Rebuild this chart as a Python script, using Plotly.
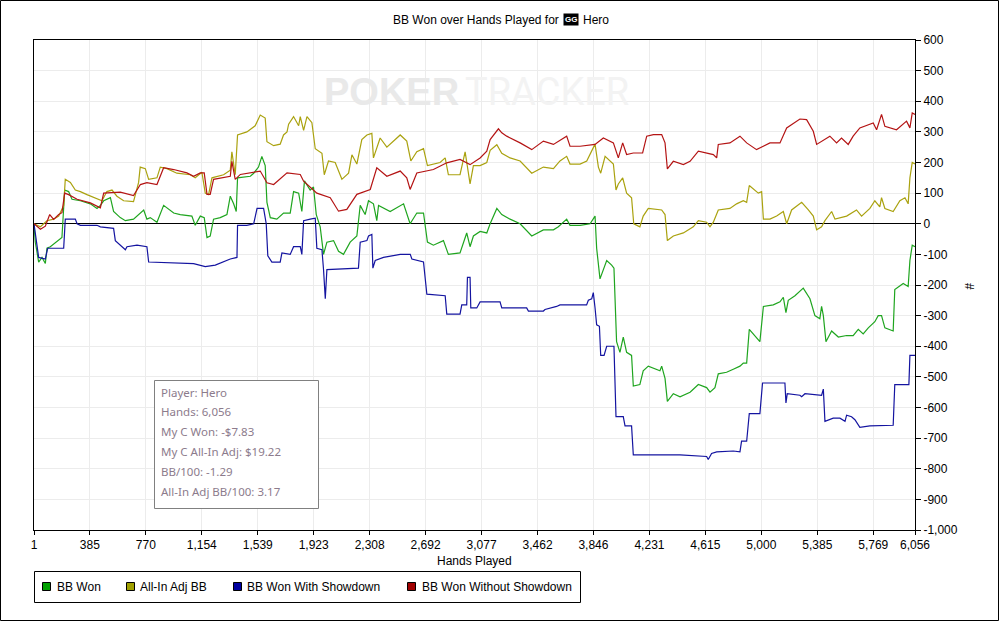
import plotly.graph_objects as go

# hands played / big blinds
bb_won = [(1, 0), (10, -60), (33, -125), (56, -110), (79, -130), (90, -80), (113, -75), (171, -55), (193, -45),
          (212, 110), (239, 105), (262, 80), (320, 75), (388, 65), (434, 50), (457, 60), (480, 75), (526, 85),
          (548, 40), (594, 20), (629, 10), (685, 15), (709, 25), (755, 45), (777, 15), (800, 20), (846, 5),
          (869, 30), (892, 60), (961, 35), (1006, 30), (1086, 25), (1109, -5), (1144, 25), (1171, 20),
          (1190, -45), (1212, -40), (1235, 15), (1281, 20), (1327, 30), (1350, 90), (1373, 65), (1391, 40),
          (1400, 150), (1488, 155), (1511, 165), (1544, 185), (1567, 220), (1590, 190), (1602, 70), (1625, 20),
          (1670, 15), (1716, 35), (1762, 35), (1785, 105), (1820, 100), (1842, 40), (1860, 140), (1899, 110),
          (1922, 120), (1941, 30), (1968, -10), (1991, -100), (2014, -60), (2060, -55), (2094, -90), (2128, -100),
          (2174, -60), (2220, -40), (2243, 60), (2277, 30), (2300, 75), (2334, 65), (2357, 10), (2369, 60),
          (2449, 40), (2541, 65), (2586, 0), (2632, 35), (2678, 35), (2705, -60), (2746, -70), (2815, -55),
          (2849, -100), (2929, -95), (2975, -30), (2998, -75), (3021, -40), (3067, -25), (3113, -30), (3136, 0),
          (3182, 50), (3216, 30), (3273, 15), (3342, 0), (3422, -40), (3502, -20), (3571, -20), (3605, -10),
          (3662, 15), (3685, -5), (3754, -5), (3823, 0), (3857, 25), (3868, -80), (3891, -180), (3914, -150),
          (3937, -120), (3971, -135), (3987, -145), (4005, -385), (4028, -420), (4051, -370), (4074, -420),
          (4108, -430), (4120, -530), (4165, -525), (4188, -480), (4223, -465), (4303, -480), (4315, -465),
          (4338, -505), (4354, -580), (4395, -555), (4441, -565), (4510, -550), (4567, -525), (4624, -535),
          (4647, -550), (4681, -535), (4704, -490), (4761, -485), (4807, -475), (4853, -465), (4876, -455),
          (4899, -455), (4917, -345), (4967, -375), (4990, -385), (5014, -270), (5082, -265), (5128, -255),
          (5151, -240), (5169, -290), (5185, -250), (5231, -235), (5288, -210), (5334, -245), (5368, -300),
          (5402, -310), (5414, -270), (5426, -300), (5444, -385), (5483, -350), (5529, -370), (5586, -365),
          (5631, -365), (5666, -345), (5700, -360), (5735, -340), (5780, -320), (5803, -300), (5826, -300),
          (5849, -340), (5906, -350), (5917, -215), (5975, -195), (6009, -205), (6021, -120), (6037, -70),
          (6056, -75)]

allin_adj = [(1, 0), (45, -10), (90, 10), (136, 15), (171, 25), (205, 60), (216, 145), (251, 135), (285, 110),
             (320, 105), (365, 95), (434, 80), (468, 75), (502, 105), (537, 110), (571, 90), (617, 75), (685, 72),
             (720, 135), (731, 185), (766, 180), (789, 145), (846, 150), (869, 185), (915, 180), (983, 165),
             (1075, 160), (1109, 150), (1155, 168), (1178, 100), (1201, 95), (1224, 150), (1304, 160), (1350, 175),
             (1361, 235), (1384, 160), (1400, 290), (1464, 300), (1521, 320), (1556, 355), (1590, 345), (1602, 268),
             (1648, 255), (1693, 260), (1716, 290), (1740, 300), (1751, 325), (1785, 350), (1820, 320), (1831, 350),
             (1854, 305), (1877, 350), (1911, 330), (1934, 245), (1980, 230), (1996, 160), (2025, 205), (2071, 200),
             (2117, 145), (2163, 165), (2186, 225), (2220, 195), (2254, 275), (2289, 290), (2323, 295), (2334, 215),
             (2380, 280), (2426, 250), (2472, 270), (2518, 290), (2563, 270), (2591, 205), (2632, 235), (2678, 245),
             (2705, 190), (2792, 200), (2827, 215), (2849, 160), (2929, 160), (2964, 235), (2998, 130), (3021, 190),
             (3067, 190), (3113, 200), (3136, 240), (3182, 258), (3216, 230), (3273, 215), (3342, 205), (3422, 165),
             (3502, 185), (3571, 180), (3616, 205), (3662, 220), (3685, 195), (3754, 195), (3800, 205), (3857, 260),
             (3880, 185), (3896, 165), (3926, 220), (3983, 195), (4001, 110), (4017, 130), (4047, 150), (4074, 100),
             (4108, 85), (4123, 0), (4165, -10), (4188, 25), (4223, 50), (4315, 45), (4338, 30), (4354, -55),
             (4395, -40), (4464, -30), (4532, -10), (4567, 10), (4624, 5), (4647, -10), (4670, 5), (4704, 45),
             (4784, 50), (4830, 65), (4876, 75), (4899, 70), (4917, 125), (4979, 100), (5002, 105), (5014, 15),
             (5059, 15), (5105, 25), (5151, 40), (5174, 0), (5208, 45), (5277, 70), (5323, 45), (5357, 25),
             (5380, -20), (5414, -10), (5437, 10), (5483, 40), (5506, 15), (5586, 25), (5654, 45), (5689, 25),
             (5746, 50), (5780, 75), (5814, 55), (5826, 85), (5849, 50), (5906, 40), (5952, 75), (5987, 85),
             (6009, 65), (6021, 150), (6037, 200), (6056, 195)]

with_sd = [(1, 0), (18, -60), (33, -110), (79, -115), (95, -80), (205, -80), (216, 15), (285, 15), (297, 0),
           (320, -5), (434, -5), (457, -10), (548, -15), (560, -55), (594, -70), (629, -85), (640, -75), (709, -70),
           (777, -75), (789, -125), (1098, -130), (1132, -135), (1178, -140), (1247, -135), (1293, -125),
           (1350, -115), (1396, -110), (1400, -5), (1464, -5), (1511, 0), (1534, 50), (1579, 50), (1597, 0),
           (1608, -105), (1636, -125), (1693, -125), (1705, -95), (1762, -100), (1785, -75), (1831, -75),
           (1842, -100), (1854, 10), (1899, 15), (1934, 18), (1945, -80), (1980, -85), (1991, -150), (2003, -245),
           (2014, -150), (2231, -145), (2243, -60), (2289, -55), (2300, -40), (2323, -35), (2330, -145),
           (2346, -120), (2403, -110), (2518, -100), (2587, -100), (2598, -115), (2678, -125), (2701, -230),
           (2827, -235), (2838, -295), (2929, -295), (2941, -265), (2975, -265), (2980, -175), (2998, -175),
           (3003, -275), (3044, -275), (3067, -255), (3204, -255), (3216, -275), (3387, -275), (3399, -285),
           (3502, -285), (3513, -280), (3593, -270), (3616, -265), (3799, -265), (3811, -250), (3834, -245),
           (3845, -225), (3857, -275), (3868, -330), (3887, -335), (3896, -430), (3919, -430), (3937, -400),
           (3987, -400), (4001, -630), (4051, -630), (4063, -660), (4108, -660), (4120, -755), (4441, -755),
           (4624, -760), (4635, -770), (4658, -750), (4693, -745), (4807, -742), (4853, -745), (4864, -710),
           (4899, -710), (4917, -620), (4990, -620), (5008, -520), (5162, -520), (5169, -585), (5178, -555),
           (5265, -560), (5277, -565), (5300, -555), (5414, -560), (5426, -540), (5437, -645), (5494, -635),
           (5540, -635), (5575, -645), (5586, -625), (5620, -630), (5643, -640), (5677, -665), (5746, -660),
           (5906, -658), (5917, -525), (5998, -525), (6014, -525), (6021, -430), (6056, -430)]

without_sd = [(1, 0), (45, -18), (79, -8), (109, 30), (136, 14), (171, 30), (193, 36), (212, 100), (239, 95),
              (297, 80), (388, 68), (457, 52), (480, 100), (548, 103), (594, 103), (685, 92), (732, 128), (777, 134),
              (846, 128), (892, 183), (961, 177), (1052, 166), (1098, 155), (1144, 166), (1171, 166), (1190, 96),
              (1212, 96), (1235, 145), (1350, 155), (1361, 204), (1384, 145), (1419, 161), (1556, 172), (1602, 134),
              (1648, 128), (1740, 166), (1831, 161), (1854, 139), (1945, 100), (2037, 85), (2094, 41), (2151, 47),
              (2220, 96), (2312, 112), (2357, 183), (2426, 155), (2518, 172), (2563, 150), (2586, 112), (2632, 166),
              (2746, 177), (2838, 199), (2929, 210), (2998, 193), (3067, 215), (3113, 237), (3136, 275), (3193, 310),
              (3216, 297), (3250, 286), (3342, 264), (3422, 242), (3502, 270), (3571, 259), (3662, 286), (3685, 253),
              (3754, 253), (3857, 259), (3914, 280), (3983, 264), (4017, 215), (4047, 264), (4074, 226), (4120, 231),
              (4184, 231), (4212, 286), (4258, 291), (4315, 291), (4338, 264), (4354, 179), (4395, 204), (4464, 193),
              (4510, 204), (4567, 237), (4670, 226), (4693, 215), (4704, 259), (4784, 264), (4853, 286), (4899, 264),
              (4967, 242), (5059, 264), (5128, 264), (5174, 313), (5265, 342), (5311, 340), (5357, 302), (5380, 259),
              (5471, 286), (5517, 264), (5551, 280), (5597, 259), (5631, 286), (5677, 313), (5769, 329), (5792, 307),
              (5826, 357), (5849, 318), (5929, 307), (5998, 335), (6021, 313), (6037, 362), (6056, 357)]

series_names = ["BB Won", "All-In Adj BB", "BB Won With Showdown", "BB Won Without Showdown"]
line_colors = ["#1fa51f", "#aaa20f", "#1414a0", "#b41414"]
legend_colors = ["#00a000", "#a0a000", "#0000a0", "#a00000"]

x_ticks = [1, 385, 770, 1154, 1539, 1923, 2308, 2692, 3077, 3462, 3846, 4231, 4615, 5000, 5385, 5769, 6056]
y_ticks = list(range(-1000, 601, 100))

stats_lines = ["Player: Hero", "Hands: 6,056", "My C Won: -$7.83", "My C All-In Adj: $19.22",
               "BB/100: -1.29", "All-In Adj BB/100: 3.17"]

# plot area in pixels: left 34, right 915, top 40, bottom 530
L, R, T, B = 34, 915, 40, 530
W, H = 999, 621


def px(x):
    return (x - L) / (R - L)


def py(y):
    return (B - y) / (B - T)


fig = go.Figure()

for pts, name, col in zip([bb_won, allin_adj, with_sd, without_sd], series_names, line_colors):
    fig.add_trace(go.Scatter(x=[p[0] for p in pts], y=[p[1] for p in pts], mode="lines", name=name,
                             line=dict(color=col, width=1.2), showlegend=False, hoverinfo="skip"))

axis_font = dict(family="Liberation Sans, Arial, sans-serif", size=12, color="black")

fig.update_xaxes(range=[1, 6056], tickvals=x_ticks, ticktext=[f"{v:,}" for v in x_ticks],
                 showline=True, linecolor="black", linewidth=1, mirror=True,
                 ticks="outside", ticklen=4, tickcolor="black",
                 showgrid=True, gridcolor="#ececec", zeroline=False, tickfont=axis_font)
fig.update_yaxes(range=[-1000, 600], tickvals=y_ticks, ticktext=[f"{v:,}" for v in y_ticks], side="right",
                 showline=True, linecolor="black", linewidth=1, mirror=True,
                 ticks="outside", ticklen=5, tickcolor="black",
                 showgrid=True, gridcolor="#ececec", zeroline=True, zerolinecolor="black", zerolinewidth=1,
                 tickfont=axis_font)

ann = []
# watermark
ann.append(dict(x=px(461), y=py(92), xref="paper", yref="paper", text="<b>POKER</b>", showarrow=False,
                xanchor="right", yanchor="middle", font=dict(family="Liberation Sans", size=38, color="#e9e9e9")))
ann.append(dict(x=px(463), y=py(92), xref="paper", yref="paper", text="TRACKER", showarrow=False,
                xanchor="left", yanchor="middle", font=dict(family="Roboto", size=38, color="#f3f3f3")))
# title
ann.append(dict(x=px(561), y=py(20), xref="paper", yref="paper", text="BB Won over Hands Played for",
                showarrow=False, xanchor="right", yanchor="middle", font=axis_font))
ann.append(dict(x=px(570.5), y=py(20), xref="paper", yref="paper", text="<b>GG</b>", showarrow=False,
                xanchor="center", yanchor="middle", bgcolor="black", borderpad=1,
                font=dict(family="Liberation Sans", size=8, color="white")))
ann.append(dict(x=px(581), y=py(20), xref="paper", yref="paper", text="Hero", showarrow=False,
                xanchor="left", yanchor="middle", font=axis_font))
# axis titles
ann.append(dict(x=px(474), y=py(561), xref="paper", yref="paper", text="Hands Played", showarrow=False,
                xanchor="center", yanchor="middle", font=axis_font))
ann.append(dict(x=px(969), y=py(286), xref="paper", yref="paper", text="#", showarrow=False, textangle=90,
                xanchor="center", yanchor="middle", font=axis_font))
# stats box text
for i, line in enumerate(stats_lines):
    ann.append(dict(x=px(159), y=py(392 + i * 19.8), xref="paper", yref="paper", text=line, showarrow=False,
                    xanchor="left", yanchor="middle",
                    font=dict(family="Noto Sans, Open Sans, sans-serif", size=11.5, color="#8c7b8c")))

shapes = [
    dict(type="rect", xref="paper", yref="paper", x0=px(154.5), x1=px(318.5), y0=py(508.5), y1=py(380.5),
         line=dict(color="#808080", width=1), fillcolor="white", layer="above"),
    dict(type="rect", xref="paper", yref="paper", x0=px(0.5), x1=px(998.5), y0=py(620.5), y1=py(0.5),
         line=dict(color="black", width=1)),
    # legend frame
    dict(type="rect", xref="paper", yref="paper", x0=px(34.5), x1=px(580.5), y0=py(602.5), y1=py(571.5),
         line=dict(color="black", width=1)),
]

# legend keys drawn as in the original: small filled squares with black outline
key_left = [42, 126, 233, 407]
text_left = [55, 138, 245, 420]
for kx, tx, name, col in zip(key_left, text_left, series_names, legend_colors):
    shapes.append(dict(type="rect", xref="paper", yref="paper", x0=px(kx + 0.5), x1=px(kx + 8.5),
                       y0=py(590.5), y1=py(582.5), line=dict(color="black", width=1), fillcolor=col))
    ann.append(dict(x=px(tx), y=py(587), xref="paper", yref="paper", text=name, showarrow=False,
                    xanchor="left", yanchor="middle", font=axis_font))

fig.update_layout(
    width=W, height=H, autosize=False,
    margin=dict(l=L, r=W - R, t=T, b=H - B),
    paper_bgcolor="white", plot_bgcolor="white",
    font=axis_font,
    annotations=ann, shapes=shapes,
    showlegend=False,
)

fig.write_html("out.html", config={"displayModeBar": False},
               post_script="document.body.style.margin='0px';")
